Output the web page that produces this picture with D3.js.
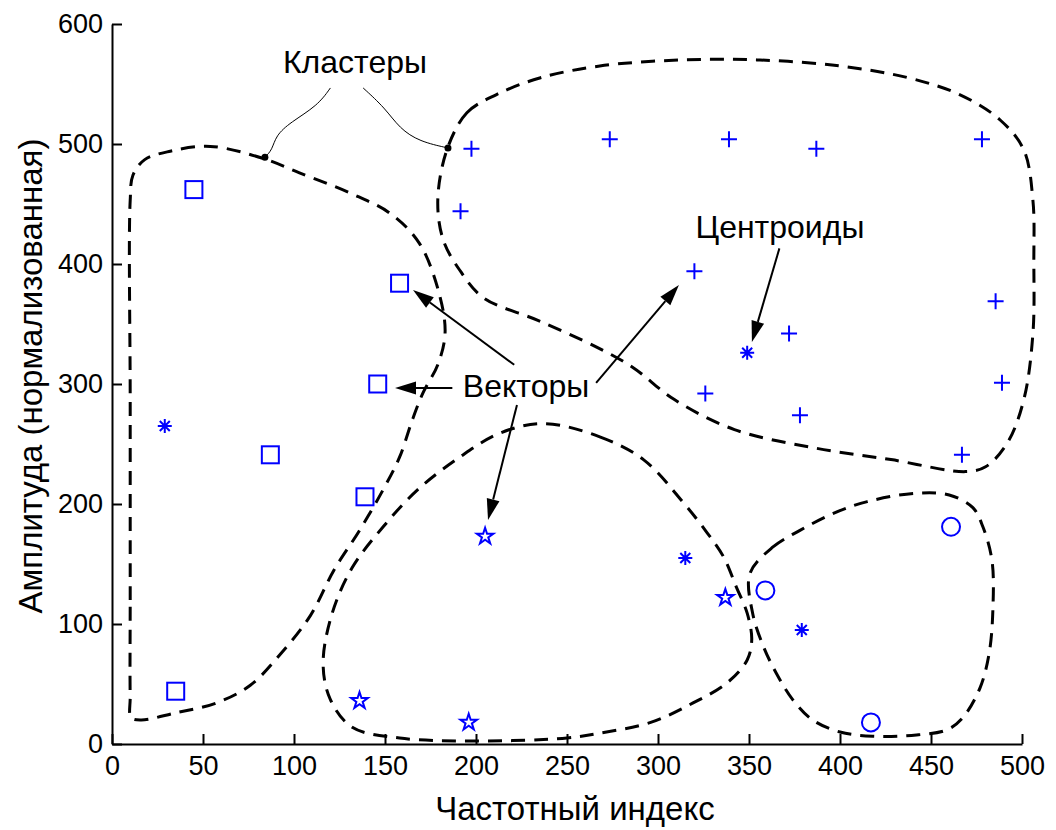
<!DOCTYPE html>
<html>
<head>
<meta charset="utf-8">
<script src="https://cdn.jsdelivr.net/npm/d3@7"></script>
<style>
  body { margin: 0; background: #fff; }
  svg { font-family: "Liberation Sans", Arial, sans-serif; }
</style>
</head>
<body>
<div id="chart"></div>
<script>
var width = 1056;
var height = 830;
var margin = {top: 24, right: 34, bottom: 86, left: 112};

// cluster members (frequency index, amplitude)
var squares = [[45, 462], [158, 384], [146, 300], [87, 241], [139, 206], [35, 44]];
var pluses = [[197.5, 496], [273.5, 504], [339, 504], [387, 496], [478, 504], [191.5, 444],
              [320, 394], [372, 342], [485.5, 369], [489, 301], [326, 292], [378, 274], [467, 241]];
var stars = [[205, 173], [337, 122], [136, 36], [196, 18]];
var circles = [[359, 128], [461, 181], [417, 18]];
var centroids = [[29, 265], [349, 326], [315, 155], [379, 95]];

// dashed cluster outlines
var cluster1 = [[10, 40], [10, 120], [10, 287], [10, 453], [11.5, 474], [18, 487], [32, 494], [54, 498],
  [83, 488], [103, 476], [131, 459], [153, 442], [169, 417], [180, 374], [183, 342], [179, 316],
  [171, 293], [165, 270], [158, 239], [149, 212], [136, 178], [122, 145], [109, 107], [92, 74],
  [76, 49], [57, 34], [35, 26], [16, 20], [10.5, 22]];
var cluster2 = [[184, 495], [195, 526], [211, 541], [235, 555], [268, 565], [312, 570], [356, 570],
  [400, 565], [438, 555], [466, 541], [488, 520], [501, 495], [506, 453], [506.5, 403], [506, 342],
  [501, 287], [492, 251], [480, 231], [469, 227], [428, 237], [385, 247], [342, 262], [309, 287],
  [286, 314], [266, 331], [234, 353], [204, 372], [191, 395], [182, 420], [179, 453]];
var cluster3 = [[237, 267], [268, 256], [292, 237], [314, 201], [327, 176], [336, 156], [343, 131],
  [349, 109], [351.5, 87], [349, 70], [338, 51], [319, 34], [296, 18], [268, 9], [250, 5], [200, 2.5],
  [158, 5], [132, 14], [120, 37], [116, 67], [121, 109], [132, 147], [149, 181], [168, 212],
  [191, 239], [213, 259]];
var cluster4 = [[350.5, 142], [363, 164], [378, 178], [396, 192], [415, 202], [442, 209], [460, 207.5],
  [473, 197], [478.5, 181], [483.5, 153], [484, 112], [482, 76], [477, 47], [467.5, 22], [459, 12],
  [442, 7.5], [418, 6.5], [400, 10], [385, 20], [374, 37], [365, 59], [358, 81], [352, 109]];

var xTicks = [0, 50, 100, 150, 200, 250, 300, 350, 400, 450, 500];
var yTicks = [0, 100, 200, 300, 400, 500, 600];

// annotations
var labels = [
  {text: "Кластеры", at: [133.5, 559]},
  {text: "Центроиды", at: [367, 421.5]},
  {text: "Векторы", at: [227.5, 289]}
];
var leaders = [
  [[120, 546.7], [113, 532], [98, 518], [90, 507], [88, 495], [84, 489]],
  [[138, 546.7], [150, 530], [158, 513], [169, 502], [184.6, 496.7]]
];
var arrows = [
  [[366.7, 413], [351.6, 335]],
  [[221, 316], [165.4, 378.3]],
  [[187, 296.7], [155.5, 296.7]],
  [[266, 301], [311.5, 382.5]],
  [[222.5, 282.5], [206.6, 186.7]]
];

var svg = d3.select("#chart").append("svg")
    .attr("width", width)
    .attr("height", height);

var xScale = d3.scaleLinear().domain([0, 500]).range([margin.left, width - margin.right]);
var yScale = d3.scaleLinear().domain([0, 600]).range([height - margin.bottom, margin.top]);

var xAxis = d3.axisBottom(xScale).tickValues(xTicks).tickSize(-10).tickSizeOuter(0).tickPadding(12);
var yAxis = d3.axisLeft(yScale).tickValues(yTicks).tickSize(-10).tickSizeOuter(0).tickPadding(9);

var gx = svg.append("g")
    .attr("transform", "translate(0," + (height - margin.bottom) + ")")
    .call(xAxis);
var gy = svg.append("g")
    .attr("transform", "translate(" + margin.left + ",0)")
    .call(yAxis);

[gx, gy].forEach(function(g) {
  g.selectAll("path, line").attr("stroke", "#000").attr("stroke-width", 2);
  g.selectAll("text").attr("fill", "#000").style("font-size", "27px");
});

svg.append("text")
    .attr("x", 575)
    .attr("y", 820)
    .attr("text-anchor", "middle")
    .style("font-size", "33px")
    .text("Частотный индекс");

svg.append("text")
    .attr("transform", "translate(42,376) rotate(-90)")
    .attr("text-anchor", "middle")
    .style("font-size", "33px")
    .text("Амплитуда (нормализованная)");

// cluster outlines
var outline = d3.line()
    .x(function(d) { return xScale(d[0]); })
    .y(function(d) { return yScale(d[1]); })
    .curve(d3.curveCatmullRomClosed.alpha(0.5));

svg.append("g").selectAll("path")
    .data([cluster1, cluster2, cluster3, cluster4])
    .enter().append("path")
    .attr("d", outline)
    .attr("fill", "none")
    .attr("stroke", "#000")
    .attr("stroke-width", 3)
    .attr("stroke-dasharray", "14,9");

// markers
var blue = "#0000ff";
var marks = svg.append("g").attr("fill", "none").attr("stroke", blue).attr("stroke-width", 2);

marks.selectAll(".sq").data(squares).enter().append("rect")
    .attr("x", function(d) { return xScale(d[0]) - 8.5; })
    .attr("y", function(d) { return yScale(d[1]) - 8.5; })
    .attr("width", 17).attr("height", 17);

marks.selectAll(".pl").data(pluses).enter().append("path")
    .attr("transform", function(d) { return "translate(" + xScale(d[0]) + "," + yScale(d[1]) + ")"; })
    .attr("d", "M-8,0H8M0,-8V8");

marks.selectAll(".st").data(stars).enter().append("path")
    .attr("transform", function(d) { return "translate(" + xScale(d[0]) + "," + yScale(d[1]) + ")"; })
    .attr("d", d3.symbol(d3.symbolStar, 85));

marks.selectAll(".ci").data(circles).enter().append("circle")
    .attr("cx", function(d) { return xScale(d[0]); })
    .attr("cy", function(d) { return yScale(d[1]); })
    .attr("r", 9);

marks.selectAll(".ce").data(centroids).enter().append("path")
    .attr("transform", function(d) { return "translate(" + xScale(d[0]) + "," + yScale(d[1]) + ")"; })
    .attr("d", "M-7,0H7M0,-7V7M-5,-5L5,5M-5,5L5,-5");

// annotation text
svg.append("g").selectAll("text")
    .data(labels)
    .enter().append("text")
    .attr("x", function(d) { return xScale(d.at[0]); })
    .attr("y", function(d) { return yScale(d.at[1]); })
    .attr("text-anchor", "middle")
    .style("font-size", "32px")
    .text(function(d) { return d.text; });

// thin curved leaders to the outlines
var leader = d3.line()
    .x(function(d) { return xScale(d[0]); })
    .y(function(d) { return yScale(d[1]); })
    .curve(d3.curveBasis);

svg.append("g").selectAll("path")
    .data(leaders)
    .enter().append("path")
    .attr("d", leader)
    .attr("fill", "none")
    .attr("stroke", "#000")
    .attr("stroke-width", 1);

svg.append("g").selectAll("circle")
    .data(leaders)
    .enter().append("circle")
    .attr("cx", function(d) { return xScale(d[d.length - 1][0]); })
    .attr("cy", function(d) { return yScale(d[d.length - 1][1]); })
    .attr("r", 3.5)
    .attr("fill", "#000");

// arrows with filled heads
var ag = svg.append("g");
arrows.forEach(function(a) {
  var x1 = xScale(a[0][0]), y1 = yScale(a[0][1]);
  var x2 = xScale(a[1][0]), y2 = yScale(a[1][1]);
  var ang = Math.atan2(y2 - y1, x2 - x1);
  var len = 21, half = 6.5;
  var bx = x2 - len * Math.cos(ang), by = y2 - len * Math.sin(ang);
  ag.append("line")
      .attr("x1", x1).attr("y1", y1)
      .attr("x2", bx).attr("y2", by)
      .attr("stroke", "#000").attr("stroke-width", 2);
  var px = -Math.sin(ang) * half, py = Math.cos(ang) * half;
  ag.append("path")
      .attr("d", "M" + x2 + "," + y2 + "L" + (bx + px) + "," + (by + py) + "L" + (bx - px) + "," + (by - py) + "Z")
      .attr("fill", "#000");
});
</script>
</body>
</html>
